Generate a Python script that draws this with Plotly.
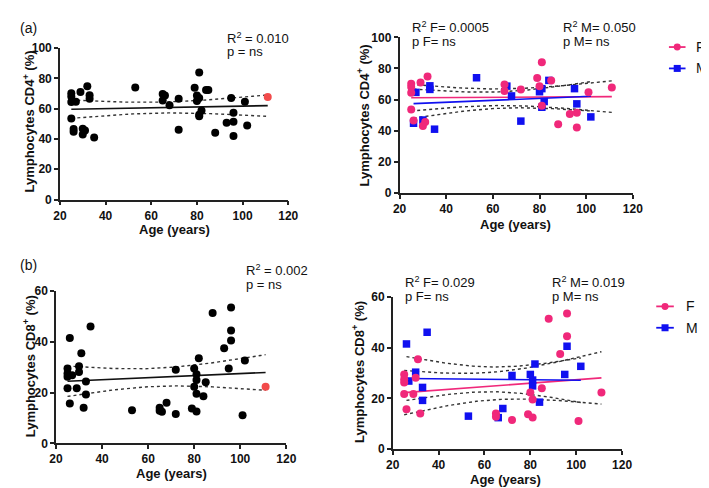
import numpy as np
import plotly.graph_objects as go

# ---------------- data ----------------
F_age = [25, 25, 25, 25, 26, 29, 30, 31, 32, 65, 65, 72, 79, 80, 81, 81, 85, 88, 93, 96, 96, 101, 111]
F_cd4 = [70.2, 68.0, 64.4, 53.5, 46.5, 70.9, 43.0, 45.5, 74.8, 69.6, 65.4, 66.5, 73.8, 68.6, 83.9, 56.0,
         72.3, 44.0, 50.7, 51.4, 42.0, 64.6, 67.7]
F_cd8 = [29.4, 27.5, 26.2, 21.7, 15.7, 21.7, 28.1, 35.4, 14.0, 14.0, 12.8, 11.5, 13.7, 22.3, 19.5, 12.5,
         24.0, 51.3, 37.4, 53.4, 44.4, 11.1, 22.3]

M_age = [26, 27, 30, 33, 33, 35, 53, 66, 68, 72, 80, 81, 81, 82, 84, 95, 96, 102]
M_cd4 = [44.7, 64.6, 46.8, 68.8, 66.5, 40.9, 74.0, 68.6, 62.3, 46.1, 65.0, 67.0, 55.0, 58.7, 72.3, 67.0, 57.2, 48.8]
M_cd8 = [41.4, 26.8, 30.3, 24.3, 19.2, 46.0, 13.0, 12.4, 16.0, 29.0, 29.4, 27.2, 24.9, 33.5, 18.5, 29.4, 40.5, 32.6]

x_ticks = [20, 40, 60, 80, 100, 120]
cd4_ticks = [0, 20, 40, 60, 80, 100]
cd8_ticks = [0, 20, 40, 60]

stats_all_cd4 = ["R<sup>2</sup> = 0.010", "p = ns"]
stats_all_cd8 = ["R<sup>2</sup> = 0.002", "p = ns"]
stats_sex_cd4 = ["R<sup>2</sup> F= 0.0005", "p F= ns", "R<sup>2</sup> M= 0.050", "p M= ns"]
stats_sex_cd8 = ["R<sup>2</sup> F= 0.029", "p F= ns", "R<sup>2</sup> M= 0.019", "p M= ns"]

# ---------------- styling ----------------
W, H = 709, 488
FONT = "Arial, Liberation Sans, sans-serif"
PINK = "#F0287A"
BLUE = "#1010F0"
RED = "#F24B4B"
AX = "#222222"

def px(x):
    return x / W

def py(y):
    return 1 - y / H

def t95(df):
    z = 1.959964
    return (z + (z**3 + z) / (4 * df) + (5 * z**5 + 16 * z**3 + 3 * z) / (96 * df**2)
            + (3 * z**7 + 19 * z**5 + 17 * z**3 - 15 * z) / (384 * df**3))

def fit_traces(x, y, color, xa, ya):
    x = np.asarray(x, float)
    y = np.asarray(y, float)
    n = len(x)
    b, a = np.polyfit(x, y, 1)
    res = y - (a + b * x)
    s = np.sqrt((res ** 2).sum() / (n - 2))
    sxx = ((x - x.mean()) ** 2).sum()
    xs = np.linspace(x.min(), x.max(), 80)
    yh = a + b * xs
    half = t95(n - 2) * s * np.sqrt(1 / n + (xs - x.mean()) ** 2 / sxx)
    out = [go.Scatter(x=xs, y=yh, mode="lines", line=dict(color=color, width=1.6),
                      xaxis=xa, yaxis=ya, showlegend=False, hoverinfo="skip")]
    for sign in (1, -1):
        out.append(go.Scatter(x=xs, y=yh + sign * half, mode="lines",
                              line=dict(color="#333333", width=1.4, dash="dot"),
                              xaxis=xa, yaxis=ya, showlegend=False, hoverinfo="skip"))
    return out

fig = go.Figure()

# ---- left panels: all subjects ----
all_age = F_age + M_age
oldest = max(all_age)
for vals_f, vals_m, xa, ya in [(F_cd4, M_cd4, "x", "y"), (F_cd8, M_cd8, "x3", "y3")]:
    all_vals = vals_f + vals_m
    for tr in fit_traces(all_age, all_vals, "#111111", xa, ya):
        fig.add_trace(tr)
    cols = [RED if a == oldest else "#000000" for a in all_age]
    order = sorted(range(len(all_age)), key=lambda i: cols[i] == RED)
    fig.add_trace(go.Scatter(x=[all_age[i] for i in order], y=[all_vals[i] for i in order],
                             mode="markers", marker=dict(color=[cols[i] for i in order], size=8),
                             xaxis=xa, yaxis=ya, showlegend=False, cliponaxis=False))

# ---- right panels: by sex ----
for vf, vm, xa, ya in [(F_cd4, M_cd4, "x2", "y2"), (F_cd8, M_cd8, "x4", "y4")]:
    for tr in fit_traces(F_age, vf, PINK, xa, ya):
        fig.add_trace(tr)
    for tr in fit_traces(M_age, vm, BLUE, xa, ya):
        fig.add_trace(tr)
    fig.add_trace(go.Scatter(x=M_age, y=vm, mode="markers",
                             marker=dict(color=BLUE, size=7.5, symbol="square"),
                             xaxis=xa, yaxis=ya, showlegend=False, cliponaxis=False))
    fig.add_trace(go.Scatter(x=F_age, y=vf, mode="markers",
                             marker=dict(color=PINK, size=8),
                             xaxis=xa, yaxis=ya, showlegend=False, cliponaxis=False))

# ---- axes ----
panels = {
    # name: (x0, x1, ytop, ybottom) in pixels
    "1": (46, 280, 34, 190, cd4_ticks),
    "2": (394, 633, 23, 183, cd4_ticks),
    "3": (42, 278, 284, 441, cd8_ticks),
    "4": (387, 622, 290, 447, cd8_ticks),
}
axis_common = dict(showline=True, linecolor=AX, linewidth=1.5, ticks="outside", ticklen=4,
                   tickwidth=1.5, tickcolor=AX, showgrid=False, zeroline=False,
                   tickfont=dict(family=FONT, size=12, color="#111111", weight="bold"))
layout_axes = {}
for k, (x0, x1, yt, yb, yt_vals) in panels.items():
    suf = "" if k == "1" else k
    layout_axes["xaxis" + suf] = dict(domain=[px(x0), px(x1)], anchor="y" + suf, range=[20, 120],
                                      tickvals=x_ticks, **axis_common)
    layout_axes["yaxis" + suf] = dict(domain=[py(yb), py(yt)], anchor="x" + suf,
                                      range=[yt_vals[0], yt_vals[-1]], tickvals=yt_vals, **axis_common)

fig.update_layout(width=W, height=H, margin=dict(l=0, r=0, t=0, b=0),
                  plot_bgcolor="white", paper_bgcolor="white", showlegend=False, **layout_axes)

# ---- text annotations ----
ann = []

def text(x, y, s, size=13, bold=False, anchor="left", angle=0):
    ann.append(dict(x=px(x), y=py(y), xref="paper", yref="paper", text=s, showarrow=False,
                    xanchor=anchor, yanchor="middle", textangle=angle,
                    font=dict(family=FONT, size=size, color="#111111",
                              weight="bold" if bold else "normal")))

text(3, 13, "(a)", size=14)
text(3, 257, "(b)", size=14)

# axis titles
text(163, 221, "Age (years)", bold=True, anchor="center")
text(513, 216, "Age (years)", bold=True, anchor="center")
text(160, 472, "Age (years)", bold=True, anchor="center")
text(503, 478, "Age (years)", bold=True, anchor="center")
text(14, 110, "Lymphocytes CD4<sup>+</sup> (%)", bold=True, anchor="center", angle=-90)
text(357, 103, "Lymphocytes CD4<sup>+</sup> (%)", bold=True, anchor="center", angle=-90)
text(14, 362, "Lymphocytes CD8<sup>+</sup> (%)", bold=True, anchor="center", angle=-90)
text(352, 368, "Lymphocytes CD8<sup>+</sup> (%)", bold=True, anchor="center", angle=-90)

# statistics
text(215, 24, stats_all_cd4[0]); text(215, 38, stats_all_cd4[1])
text(235, 263, stats_all_cd8[0]); text(235, 277, stats_all_cd8[1])
text(405, 12, stats_sex_cd4[0]); text(405, 27, stats_sex_cd4[1])
text(559, 12, stats_sex_cd4[2]); text(559, 27, stats_sex_cd4[3])
text(398, 275, stats_sex_cd8[0]); text(398, 290, stats_sex_cd8[1])
text(548, 275, stats_sex_cd8[2]); text(548, 290, stats_sex_cd8[3])

# ---- legends (drawn as shapes + text) ----
shapes = []

def legend_item(xl, xr, y, color, symbol, label, xt):
    shapes.append(dict(type="line", xref="paper", yref="paper", x0=px(xl), x1=px(xr), y0=py(y), y1=py(y),
                       line=dict(color=color, width=1.8)))
    xm = (xl + xr) / 2
    r = 3.6
    shapes.append(dict(type="circle" if symbol == "circle" else "rect", xref="paper", yref="paper",
                       x0=px(xm - r), x1=px(xm + r), y0=py(y + r), y1=py(y - r),
                       fillcolor=color, line=dict(color=color, width=0)))
    text(xt, y, label, size=14)

legend_item(670, 687, 33, PINK, "circle", "F", 696)
legend_item(670, 687, 55, BLUE, "square", "M", 696)
legend_item(657, 675, 300, PINK, "circle", "F", 685)
legend_item(657, 675, 322, BLUE, "square", "M", 685)

fig.update_layout(annotations=ann, shapes=shapes)
fig.write_html("out.html")
